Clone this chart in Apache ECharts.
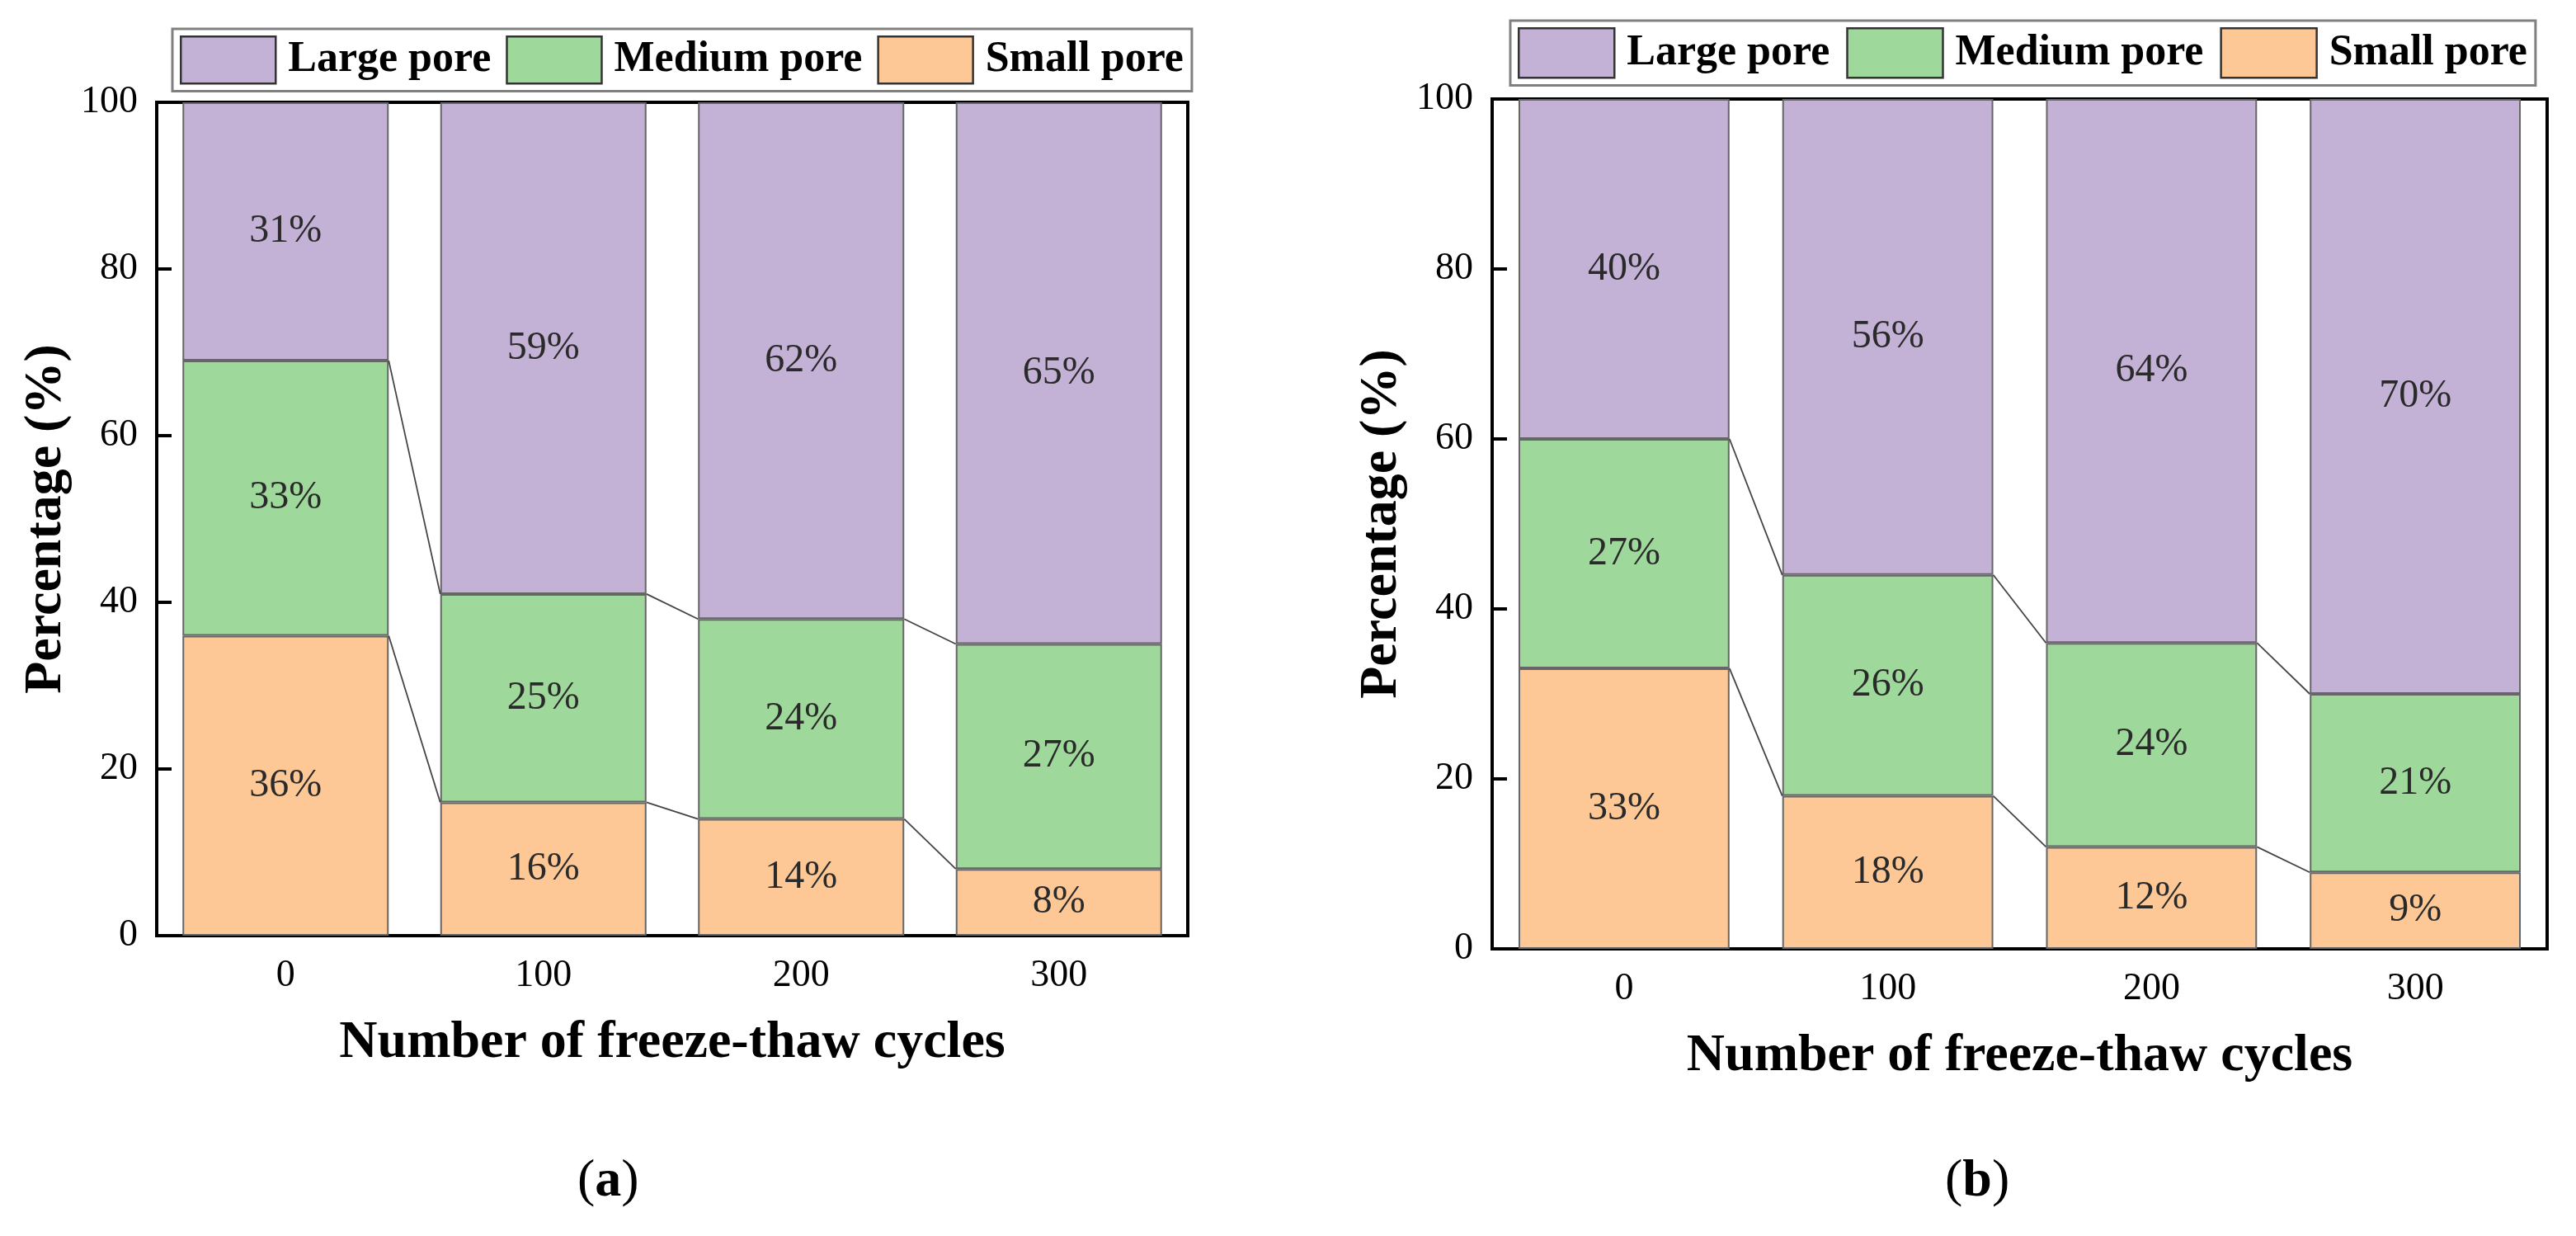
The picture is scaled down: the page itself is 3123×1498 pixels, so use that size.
<!DOCTYPE html>
<html>
<head>
<meta charset="utf-8">
<script src="https://cdn.jsdelivr.net/npm/echarts@6/dist/echarts.min.js"></script>
<style>
html,body{margin:0;padding:0;background:#fff;}
#c{width:3123px;height:1498px;}
</style>
</head>
<body>
<div id="c"></div>
<script>
// ---- data ----
const categories = ['0', '100', '200', '300'];
const seriesNames = ['Large pore', 'Medium pore', 'Small pore'];
const smallA = [36, 16, 14, 8];
const mediumA = [33, 25, 24, 27];
const largeA = [31, 59, 62, 65];
const smallB = [33, 18, 12, 9];
const mediumB = [27, 26, 24, 21];
const largeB = [40, 56, 64, 70];
const yMin = 0, yMax = 100, yInterval = 20;
const panelLabels = ['(a)', '(b)'];

const colors = { 'Large pore': '#C3B1D6', 'Medium pore': '#9ED89B', 'Small pore': '#FDC896' };
const SERIF = "'Liberation Serif','Times New Roman',serif";

function connectorData(small, medium) {
  const out = [];
  for (let i = 0; i < small.length - 1; i++) {
    out.push([i, small[i], small[i + 1], small[i] + medium[i], small[i + 1] + medium[i + 1]]);
  }
  return out;
}

function barSeries(name, data, idx, stack) {
  return {
    name: name, type: 'bar', stack: stack, data: data,
    xAxisIndex: idx, yAxisIndex: idx,
    barWidth: '80%',
    itemStyle: { color: colors[name], borderColor: '#666', borderWidth: 2 },
    label: {
      show: true, position: 'inside', formatter: '{c}%',
      fontFamily: SERIF, fontSize: 48, color: '#2a2a2a'
    },
    emphasis: { disabled: true }
  };
}

function connectorSeries(data, idx) {
  return {
    type: 'custom', xAxisIndex: idx, yAxisIndex: idx, data: data,
    encode: { x: 0, y: 1 }, silent: true, z: 5,
    renderItem: function (params, api) {
      const i = api.value(0);
      const half = api.size([1, 0])[0] * 0.4;
      const children = [];
      [[1, 2], [3, 4]].forEach(function (pair) {
        const p1 = api.coord([i, api.value(pair[0])]);
        const p2 = api.coord([i + 1, api.value(pair[1])]);
        children.push({
          type: 'line',
          shape: { x1: p1[0] + half, y1: p1[1], x2: p2[0] - half, y2: p2[1] },
          style: { stroke: '#444', lineWidth: 1.8 }
        });
      });
      return { type: 'group', children: children };
    }
  };
}

function xAxis(idx) {
  return {
    type: 'category', gridIndex: idx, data: categories,
    name: 'Number of freeze-thaw cycles', nameLocation: 'middle', nameGap: 98,
    nameTextStyle: { fontFamily: SERIF, fontWeight: 'bold', fontSize: 64, color: '#000', lineHeight: 64 },
    axisLine: { show: true, lineStyle: { color: '#000', width: 4 } },
    axisTick: { show: true, inside: true, length: 18, alignWithLabel: true, lineStyle: { color: '#000', width: 4 } },
    axisLabel: { fontFamily: SERIF, fontSize: 46, color: '#000', margin: 26 },
    splitLine: { show: false }
  };
}

function yAxis(idx) {
  return {
    type: 'value', gridIndex: idx, min: yMin, max: yMax, interval: yInterval,
    name: 'Percentage (%)', nameLocation: 'middle', nameGap: 102, nameRotate: 90,
    nameTextStyle: { fontFamily: SERIF, fontWeight: 'bold', fontSize: 64, color: '#000', lineHeight: 64 },
    axisLine: { show: true, lineStyle: { color: '#000', width: 4 } },
    axisTick: { show: true, inside: true, length: 18, lineStyle: { color: '#000', width: 4 } },
    axisLabel: { fontFamily: SERIF, fontSize: 46, color: '#000', margin: 23 },
    splitLine: { show: false }
  };
}

function legend(left, top, iw, ih, gap) {
  return {
    data: seriesNames, left: left, top: top, orient: 'horizontal',
    itemWidth: iw, itemHeight: ih, itemGap: gap,
    padding: [8, 10, 8, 9],
    borderColor: '#808080', borderWidth: 3, backgroundColor: '#fff',
    icon: 'rect',
    itemStyle: { borderColor: '#333', borderWidth: 2.5 },
    textStyle: { fontFamily: SERIF, fontWeight: 'bold', fontSize: 52, color: '#000', padding: [0, 0, 0, 10] },
    selectedMode: false
  };
}

const option = {
  backgroundColor: '#fff',
  animation: false,
  legend: [legend(209, 35, 115, 57, 18), legend(1831, 25, 116, 60, 20)],
  grid: [
    { left: 190, top: 124, width: 1250, height: 1010, show: true, borderColor: '#000', borderWidth: 4, containLabel: false },
    { left: 1809, top: 120, width: 1279, height: 1030, show: true, borderColor: '#000', borderWidth: 4, containLabel: false }
  ],
  xAxis: [xAxis(0), xAxis(1)],
  yAxis: [yAxis(0), yAxis(1)],
  series: [
    barSeries('Small pore', smallA, 0, 'A'),
    barSeries('Medium pore', mediumA, 0, 'A'),
    barSeries('Large pore', largeA, 0, 'A'),
    connectorSeries(connectorData(smallA, mediumA), 0),
    barSeries('Small pore', smallB, 1, 'B'),
    barSeries('Medium pore', mediumB, 1, 'B'),
    barSeries('Large pore', largeB, 1, 'B'),
    connectorSeries(connectorData(smallB, mediumB), 1)
  ],
  graphic: [
    { type: 'text', left: 700, top: 1400, style: { rich: { p: { fontFamily: SERIF, fontSize: 64, fill: '#000' }, b: { fontFamily: SERIF, fontSize: 64, fontWeight: 'bold', fill: '#000' } }, text: '{p|(}{b|a}{p|)}' } },
    { type: 'text', left: 2358, top: 1400, style: { rich: { p: { fontFamily: SERIF, fontSize: 64, fill: '#000' }, b: { fontFamily: SERIF, fontSize: 64, fontWeight: 'bold', fill: '#000' } }, text: '{p|(}{b|b}{p|)}' } }
  ]
};

const chart = echarts.init(document.getElementById('c'));
chart.setOption(option);
</script>
</body>
</html>
